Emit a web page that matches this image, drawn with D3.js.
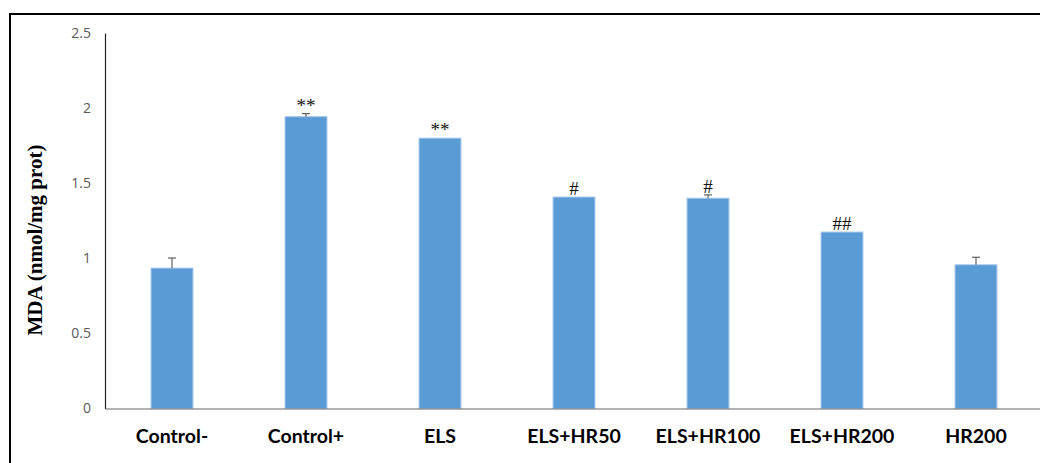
<!DOCTYPE html>
<html>
<head>
<meta charset="utf-8">
<script src="https://cdn.jsdelivr.net/npm/d3@7"></script>
<style>
  html, body { margin: 0; padding: 0; background: #fff; }
  svg { display: block; }
</style>
</head>
<body>
<svg id="chart" width="1040" height="463"></svg>
<script>
// MDA levels per group (mean ± error) with significance marks
const groups = ["Control-", "Control+", "ELS", "ELS+HR50", "ELS+HR100", "ELS+HR200", "HR200"];
const means = [0.935, 1.943, 1.80, 1.408, 1.40, 1.175, 0.957];
const errors = [0.067, 0.02, 0.0, 0.0, 0.022, 0.0, 0.05];
const marks = ["", "**", "**", "#", "#", "##", ""];
const yTicks = [0, 0.5, 1, 1.5, 2, 2.5];

const svg = d3.select("#chart");
const W = 1040, H = 463;

const x = d3.scaleBand().domain(groups).range([105, 1043]).paddingInner(0.687).paddingOuter(0.3435);
const y = d3.scaleLinear().domain([0, 2.5]).range([408.5, 33]);

// outer frame
svg.append("rect")
  .attr("x", 10).attr("y", 14)
  .attr("width", W + 20).attr("height", H + 20)
  .attr("fill", "none").attr("stroke", "#000").attr("stroke-width", 2);

// y axis
const yAxis = d3.axisLeft(y).tickValues(yTicks).tickSize(0).tickPadding(14)
  .tickFormat(d => String(d));
const gy = svg.append("g").attr("transform", "translate(105,0)").call(yAxis);
gy.select(".domain").attr("stroke", "#222").attr("stroke-width", 1.2);
gy.selectAll(".tick text")
  .attr("fill", "#595959")
  .style("font-family", "'Open Sans', sans-serif")
  .style("font-size", "14px");

// bars
svg.append("g").selectAll("rect").data(groups).join("rect")
  .attr("x", d => x(d))
  .attr("y", (d, i) => y(means[i]))
  .attr("width", x.bandwidth())
  .attr("height", (d, i) => y(0) - y(means[i]))
  .attr("fill", "#5b9bd5")
  .attr("stroke", "#a9c9ec")
  .attr("stroke-width", 1);

// error bars (upper only)
const eb = svg.append("g").attr("stroke", "#444").attr("stroke-width", 1);
groups.forEach((g, i) => {
  if (errors[i] <= 0) return;
  const cx = x(g) + x.bandwidth() / 2;
  eb.append("line").attr("x1", cx).attr("x2", cx)
    .attr("y1", y(means[i])).attr("y2", y(means[i] + errors[i]));
  eb.append("line").attr("x1", cx - 4).attr("x2", cx + 4)
    .attr("y1", y(means[i] + errors[i])).attr("y2", y(means[i] + errors[i]));
});

// significance marks
svg.append("g").selectAll("text").data(groups).join("text")
  .attr("x", d => x(d) + x.bandwidth() / 2)
  .attr("y", (d, i) => y(means[i] + errors[i]) - 2)
  .attr("text-anchor", "middle")
  .style("font-family", "'Liberation Serif', serif")
  .style("font-size", "19px")
  .attr("fill", "#111")
  .text((d, i) => marks[i]);

// x axis
const xAxis = d3.axisBottom(x).tickSize(0).tickPadding(21);
const gx = svg.append("g").attr("transform", `translate(0,${y(0)})`).call(xAxis);
gx.select(".domain").attr("stroke", "#666").attr("stroke-width", 1.2);
gx.selectAll(".tick text")
  .attr("fill", "#000")
  .style("font-family", "Lato, sans-serif")
  .style("font-weight", "bold")
  .style("font-size", "19.5px");

// y axis title
svg.append("text")
  .attr("transform", "translate(42,240) rotate(-90)")
  .attr("text-anchor", "middle")
  .style("font-family", "'Liberation Serif', serif")
  .style("font-weight", "bold")
  .style("font-size", "21px")
  .attr("fill", "#000")
  .text("MDA (nmol/mg prot)");
</script>
</body>
</html>
